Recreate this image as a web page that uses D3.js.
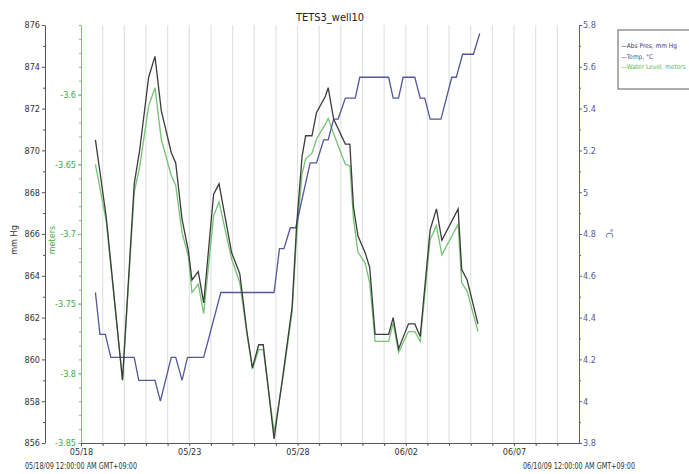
<!DOCTYPE html>
<html>
<head>
<meta charset="utf-8">
<script src="https://cdn.jsdelivr.net/npm/d3@7"></script>
<style>
  body { margin: 0; background: #fff; }
  text { font-family: 'Liberation Sans Narrow', 'DejaVu Sans', sans-serif; font-stretch: condensed; }
</style>
</head>
<body>
<div class="canvas"></div>
<script>
// hours since 05/18/09 00:00 for the pressure / water level readings
const levelHours = [16, 28, 46, 59, 65, 75, 82, 89, 100, 105, 112, 119, 123, 130, 136, 147, 153, 167, 176, 184,
    190, 197, 202, 214, 224, 234, 239, 245, 249, 256, 261, 271, 274, 280, 293, 298, 302, 307, 315, 320,
    326, 341, 346, 352, 363, 370, 376, 387, 394, 400, 418, 422, 428, 440];
const absPres = [870.5, 866.8, 859.0, 868.4, 870.0, 873.5, 874.5, 871.9, 869.9, 869.4, 866.7, 865.2, 863.8, 864.2, 862.7, 867.9, 868.4, 865.1, 864.1, 861.3,
    859.6, 860.7, 860.7, 856.2, 859.3, 862.5, 866.4, 869.7, 870.7, 870.7, 871.8, 872.6, 873.0, 871.5, 870.3, 870.3, 867.3, 865.9, 865.1, 864.4,
    861.2, 861.2, 862.0, 860.5, 861.7, 861.7, 861.1, 866.2, 867.2, 865.7, 867.2, 864.3, 863.8, 861.7];
const waterLevel = [-3.650, -3.691, -3.805, -3.670, -3.652, -3.608, -3.595, -3.632, -3.658, -3.665, -3.699, -3.716, -3.742, -3.736, -3.757, -3.687, -3.677, -3.718, -3.735, -3.772,
    -3.797, -3.783, -3.783, -3.842, -3.803, -3.756, -3.701, -3.657, -3.646, -3.642, -3.632, -3.621, -3.617, -3.628, -3.650, -3.651, -3.689, -3.713, -3.721, -3.735,
    -3.777, -3.777, -3.764, -3.785, -3.770, -3.770, -3.777, -3.704, -3.694, -3.715, -3.693, -3.735, -3.741, -3.770];

// temperature readings
const tempHours = [16, 21, 27, 33, 59, 64, 82, 88, 100, 105, 112, 118, 136, 155, 214, 220, 225, 232, 238, 254,
    261, 269, 274, 280, 285, 293, 304, 309, 341, 346, 352, 357, 370, 376, 381, 387, 399, 411, 416, 423, 435, 442];
const temp = [4.52, 4.32, 4.32, 4.21, 4.21, 4.10, 4.10, 4.00, 4.21, 4.21, 4.10, 4.21, 4.21, 4.52, 4.52, 4.73, 4.73, 4.83, 4.83, 5.14,
    5.14, 5.25, 5.25, 5.35, 5.35, 5.45, 5.45, 5.55, 5.55, 5.45, 5.45, 5.55, 5.55, 5.45, 5.45, 5.35, 5.35, 5.55, 5.55, 5.66, 5.66, 5.76];

const presTicks = d3.range(856, 877, 2);
const levelTicks = [-3.85, -3.8, -3.75, -3.7, -3.65, -3.6];
const tempTicks = [3.8, 4, 4.2, 4.4, 4.6, 4.8, 5, 5.2, 5.4, 5.6, 5.8];
const seriesNames = ['Abs Pres, mm Hg', 'Temp, °C', 'Water Level, meters'];

const width = 689, height = 474;
const t0 = new Date(Date.UTC(2009, 4, 18));
const t1 = new Date(Date.UTC(2009, 5, 10));
const toDate = h => new Date(t0.getTime() + h * 3600e3);

const svg = d3.select('.canvas').append('svg')
    .attr('width', width)
    .attr('height', height);

const x = d3.scaleUtc().domain([t0, t1]).range([81, 579]);
const yP = d3.scaleLinear().domain([856, 876]).range([443, 25]);
const yW = d3.scaleLinear().domain([-3.85, -3.55]).range([443, 25]);
const yT = d3.scaleLinear().domain([3.8, 5.8]).range([443, 25]);

const colPres = '#3c3c3c', colTemp = '#55559b', colLevel = '#74c274';

// day gridlines
const days = d3.utcDay.range(t0, d3.utcDay.offset(t1, 1));
svg.append('g').selectAll('line')
    .data(days.slice(1, -1))
    .join('line')
    .attr('x1', d => x(d)).attr('x2', d => x(d))
    .attr('y1', 25).attr('y2', 443)
    .attr('stroke', '#e2e2e2')
    .attr('stroke-width', 1.2);

// title
svg.append('text')
    .attr('x', 330).attr('y', 21)
    .attr('text-anchor', 'middle')
    .attr('font-size', 11)
    .attr('fill', '#222')
    .text('TETS3_well10');

function styleAxis(g, color, textColor) {
    g.selectAll('path, line').attr('stroke', color);
    g.selectAll('text').attr('fill', textColor).attr('font-size', 9);
}

// left pressure axis
const gP = svg.append('g').attr('transform', 'translate(45,0)');
gP.call(d3.axisLeft(yP).tickValues(presTicks).tickFormat(d3.format('d')).tickSize(3).tickSizeOuter(0).tickPadding(2));
gP.append('g').call(d3.axisLeft(yP).tickValues(d3.range(857, 876, 2)).tickFormat('').tickSize(2)).select('.domain').remove();
styleAxis(gP, '#555', '#333');

// green water level axis
const gW = svg.append('g').attr('transform', 'translate(81,0)');
gW.call(d3.axisLeft(yW).tickValues(levelTicks).tickFormat(d => String(+d.toFixed(2))).tickSize(3).tickSizeOuter(0).tickPadding(2));
gW.append('g').call(d3.axisLeft(yW).tickValues(d3.range(0, 31).map(i => -3.85 + i * 0.01)).tickFormat('').tickSize(2)).select('.domain').remove();
styleAxis(gW, '#66cc66', '#44aa44');

// right temperature axis
const gT = svg.append('g').attr('transform', 'translate(579,0)');
gT.call(d3.axisRight(yT).tickValues(tempTicks).tickFormat(d => String(+d.toFixed(1))).tickSize(3).tickSizeOuter(0).tickPadding(1));
gT.append('g').call(d3.axisRight(yT).tickValues(d3.range(39, 58, 2).map(i => i / 10)).tickFormat('').tickSize(2)).select('.domain').remove();
styleAxis(gT, '#5a5a99', '#5a5a99');

// bottom time axis
const gX = svg.append('g').attr('transform', 'translate(0,443)');
gX.call(d3.axisBottom(x).tickValues(days.slice(0, -1))
    .tickFormat((d, i) => i % 5 === 0 ? d3.utcFormat('%m/%d')(d) : '')
    .tickSize(3).tickSizeOuter(0).tickPadding(3));
styleAxis(gX, '#555', '#333');

svg.selectAll('.range-label')
    .data([t0, t1])
    .join('text')
    .attr('class', 'range-label')
    .attr('x', d => x(d) - 56).attr('y', 469)
    .attr('textLength', 112).attr('lengthAdjust', 'spacingAndGlyphs')
    .attr('font-size', 9).attr('fill', '#333')
    .text(d => d3.utcFormat('%m/%d/%y')(d) + ' 12:00:00 AM GMT+09:00');

// axis titles
svg.append('text').attr('transform', 'translate(17,240) rotate(-90)').attr('text-anchor', 'middle')
    .attr('font-size', 9).attr('fill', '#333').text('mm Hg');
svg.append('text').attr('transform', 'translate(55,240) rotate(-90)').attr('text-anchor', 'middle')
    .attr('font-size', 9).attr('fill', '#44aa44').text('meters');
svg.append('text').attr('transform', 'translate(606,233) rotate(90)').attr('text-anchor', 'middle')
    .attr('font-size', 9).attr('fill', '#5a5a99').text('°C');

// lines
const linePW = (ys, vals) => d3.line()
    .x((d, i) => x(toDate(levelHours[i])))
    .y((d, i) => ys(vals[i]));

svg.append('path')
    .attr('d', linePW(yW, waterLevel)(waterLevel))
    .attr('fill', 'none').attr('stroke', colLevel).attr('stroke-width', 1.3);

svg.append('path')
    .attr('d', d3.line().x((d, i) => x(toDate(tempHours[i]))).y(d => yT(d))(temp))
    .attr('fill', 'none').attr('stroke', colTemp).attr('stroke-width', 1.3);

svg.append('path')
    .attr('d', linePW(yP, absPres)(absPres))
    .attr('fill', 'none').attr('stroke', colPres).attr('stroke-width', 1.3);

// legend
const legend = svg.append('g').attr('transform', 'translate(618,30)');
legend.append('rect')
    .attr('x', 0).attr('y', 0).attr('width', 80).attr('height', 59)
    .attr('fill', '#fff').attr('stroke', '#777').attr('stroke-width', 1.2);
legend.selectAll('text')
    .data(seriesNames)
    .join('text')
    .attr('x', 3)
    .attr('y', (d, i) => 18 + i * 10.5)
    .attr('font-size', 6.5)
    .attr('fill', (d, i) => [colPres, colTemp, '#55b855'][i])
    .text(d => '\u2014' + d);
</script>
</body>
</html>
